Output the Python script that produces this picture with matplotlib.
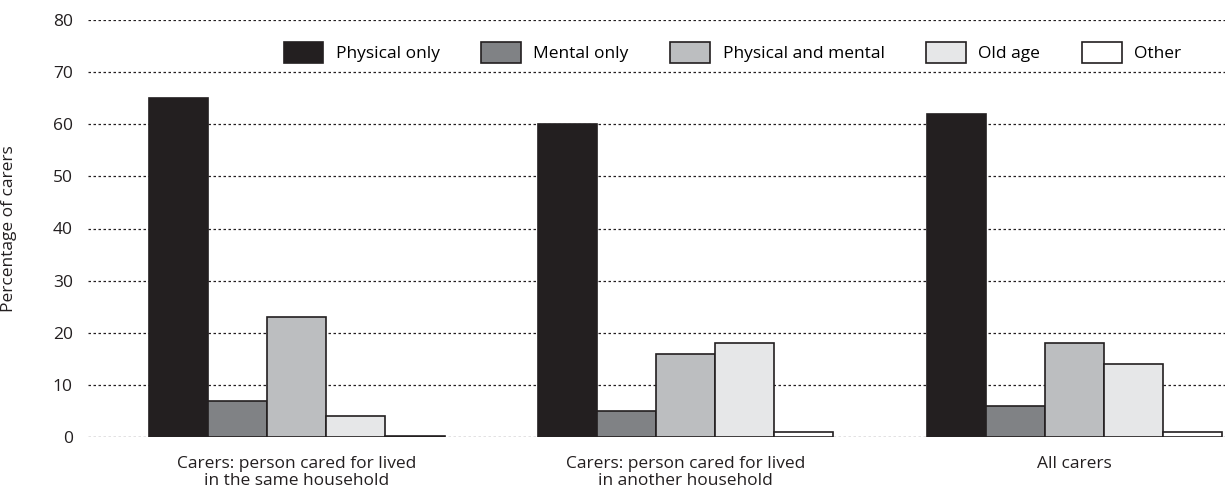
import matplotlib
matplotlib.use("Agg")
import matplotlib.pyplot as plt
import numpy as np

groups = ["Carers: person cared for lived\nin the same household",
          "Carers: person cared for lived\nin another household",
          "All carers"]
series = ["Physical only", "Mental only", "Physical and mental", "Old age", "Other"]
physical_only = [65, 60, 62]
mental_only = [7, 5, 6]
physical_and_mental = [23, 16, 18]
old_age = [4, 18, 14]
other = [0.2, 1, 1]
values = [physical_only, mental_only, physical_and_mental, old_age, other]
colors = ["#231f20", "#808285", "#bcbec0", "#e6e7e8", "#ffffff"]
yticks = [0, 10, 20, 30, 40, 50, 60, 70, 80]

FS = 12.5
plt.rcParams['font.family'] = ['Open Sans', 'DejaVu Sans']
fig = plt.figure(figsize=(12.3, 4.92), dpi=100)
ax = fig.add_axes([88/1230, 1-437/492, (1225-88)/1230, 417/492])

x = np.arange(len(groups))
w = 0.152
for i, (name, vals, c) in enumerate(zip(series, values, colors)):
    ax.bar(x + (i - 2) * w, vals, width=w, color=c, edgecolor="#231f20",
           linewidth=1.2, label=name, zorder=3)

ax.set_ylim(0, 80)
ax.set_xlim(-0.537, 2.387)
ax.set_yticks(yticks)
ax.set_xticks(x)
ax.set_xticklabels(groups, fontsize=FS, color="#231f20", linespacing=1.05)
ax.tick_params(axis='y', length=0, pad=11, labelsize=FS, labelcolor="#231f20")
ax.tick_params(axis='x', length=0, pad=14)
for s in ax.spines.values():
    s.set_visible(False)
ax.yaxis.grid(True, linestyle=(0, (2, 2)), color="#231f20", linewidth=0.9, zorder=0)
ax.set_axisbelow(True)
ax.set_ylabel("Percentage of carers", fontsize=FS, color="#231f20")
ax.yaxis.set_label_coords((17-88)/(1225-88), 0.5)

leg = ax.legend(ncol=5, loc='center right',
                bbox_to_anchor=((1181-88)/(1225-88), 73.8/80),
                frameon=False, fontsize=FS, handlelength=2.3, handleheight=1.44,
                columnspacing=2.4, handletextpad=0.7, borderaxespad=0,
                borderpad=0)
fig.savefig("out.png", dpi=100)
